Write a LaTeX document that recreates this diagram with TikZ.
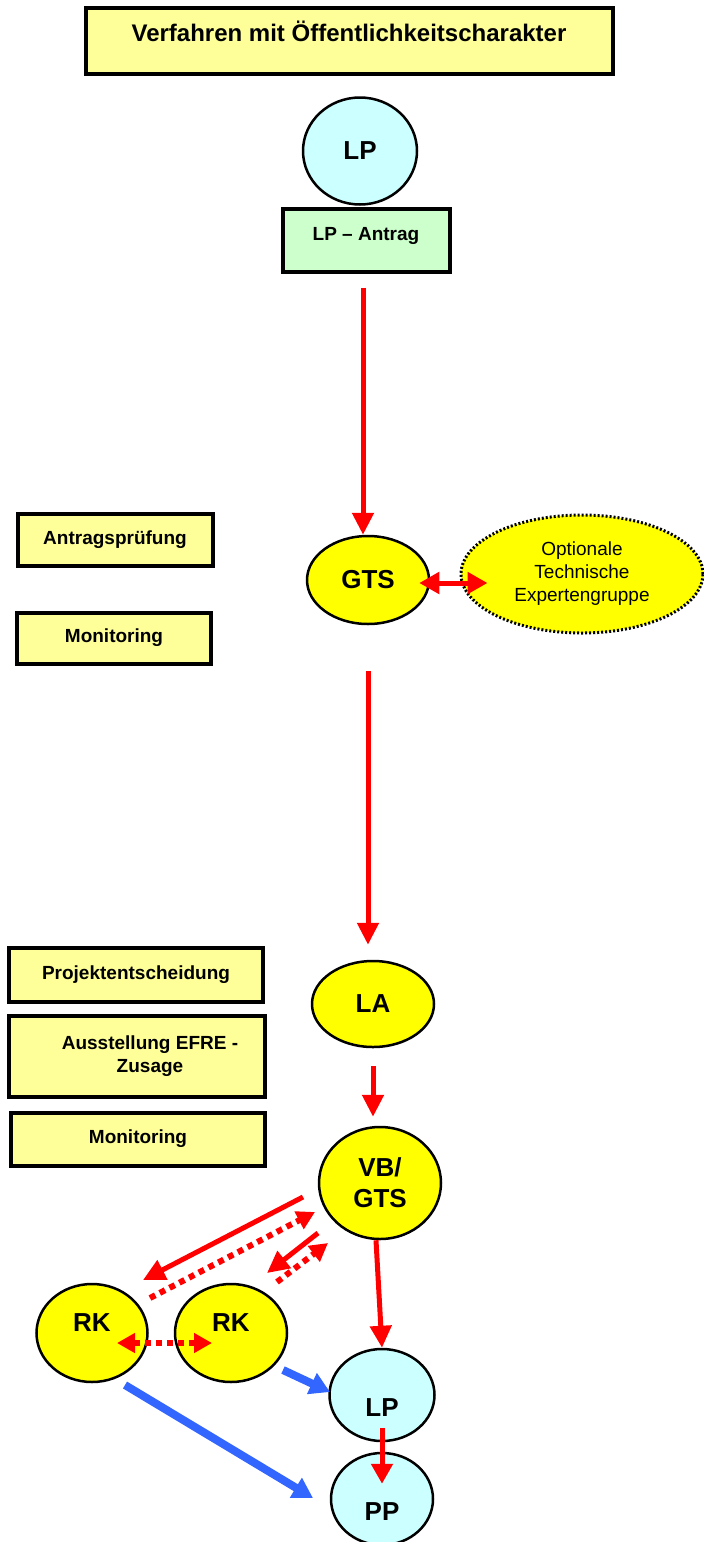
\documentclass[tikz,border=0pt]{standalone}
\usepackage{fontspec}
\setmainfont{Liberation Sans}
\usetikzlibrary{arrows.meta,shapes.geometric,calc}
\definecolor{boxyellow}{RGB}{255,255,153}
\definecolor{nodeyellow}{RGB}{255,255,0}
\definecolor{lightcyan}{RGB}{204,255,255}
\definecolor{lightgreen}{RGB}{204,255,204}
\definecolor{flowblue}{RGB}{51,102,255}
\begin{document}
\begin{tikzpicture}[x=1pt,y=-1pt,
    phase/.style ={rectangle, draw, line width=4pt, fill=boxyellow, inner sep=0pt,
                   font=\bfseries\fontsize{19}{23}\selectfont, align=center},
    actor/.style ={ellipse, draw, line width=2.5pt, fill=nodeyellow, inner sep=0pt,
                   font=\bfseries\fontsize{26}{31}\selectfont, align=center},
    partner/.style ={actor, fill=lightcyan},
    flow/.style ={draw=red, line width=5pt, -{Triangle[length=22pt,width=21pt]}},
    flowdot/.style ={flow, line width=6pt, dash pattern=on 6pt off 5pt, -{Triangle[length=18pt,width=19pt]}},
    report/.style ={draw=flowblue, line width=8pt, -{Triangle[length=20pt,width=22pt]}}]
   \useasboundingbox (0,0) rectangle (704,1542);

   % Kopf und Antrag
   \node[phase, font=\bfseries\fontsize{24}{28}\selectfont, minimum width=527pt, minimum height=66pt,
         text height=17.2pt, text depth=16pt] (title) at (349,41) {Verfahren mit Öffentlichkeitscharakter};
   \node[partner, minimum width=114pt, minimum height=107pt] (lp)  at (360,151)  {LP};
   \node[phase, fill=lightgreen, minimum width=167pt, minimum height=63pt,
         text height=13.6pt, text depth=12pt] (antrag) at (366,240) {LP -- Antrag};

   % Pruefung
   \node[phase, minimum width=195pt, minimum height=52pt] (pruef) at (115,540) {Antragsprüfung};
   \node[phase, minimum width=194pt, minimum height=51pt] (mon1)  at (114,638)  {Monitoring};
   \node[actor, minimum width=122pt, minimum height=88pt] (gts) at (368,580)  {GTS};
   \node[actor, draw, line width=3pt, dash pattern=on 2pt off 2pt, font=\fontsize{19}{23}\selectfont,
         minimum width=242pt, minimum height=118pt] (expert) at (582,574) {Optionale\\Technische\\Expertengruppe};

   % Entscheidung
   \node[phase, minimum width=254pt, minimum height=54pt] (entsch) at (136,975)  {Projektentscheidung};
   \node[phase, minimum width=256pt, minimum height=81pt] (efre)   at (137,1056) {\hspace*{26pt}Ausstellung EFRE -\\\hspace*{26pt}Zusage};
   \node[phase, minimum width=254pt, minimum height=53pt] (mon2)   at (138,1139) {Monitoring};
   \node[actor, minimum width=122pt, minimum height=86pt]  (la) at (373,1004) {LA};
   \node[actor, minimum width=122pt, minimum height=112pt] (vb) at (380,1183) {VB/\\GTS};

   % Kontrolle
   \node[actor, minimum width=111pt, minimum height=98pt, text height=18.6pt, text depth=22pt] (rkA) at (92,1333)  {RK};
   \node[actor, minimum width=112pt, minimum height=98pt, text height=18.6pt, text depth=22pt] (rkB) at (231,1333) {RK};
   \node[partner, minimum width=105pt, minimum height=92pt, text height=42.6pt, text depth=0pt] (lpEnd) at (382,1395) {LP};
   \node[partner, minimum width=102pt, minimum height=92pt, text height=42.6pt, text depth=0pt] (pp)    at (382,1499) {PP};

   \draw[flow] ([xshift=-3pt,yshift=-14pt]antrag.south) to ([xshift=-3pt]antrag.south |- gts.north);
   \draw[flow, {Triangle[length=20pt,width=21pt]}-{Triangle[length=20pt,width=21pt]}]
        ($(gts.east)+(-11,3)$) to ($(expert.west)+(28,9)$);
   \draw[flow] ([yshift=-46pt]gts.south) to ([yshift=15pt]gts.south |- la.north);
   \draw[flow] ([yshift=-18pt]la.south) to ([yshift=9pt]la.south |- vb.north);
   \draw[flow] ([xshift=-4pt]vb.south) to (lpEnd.north);
   \draw[flow, -{Triangle[length=20pt,width=21pt]}] ([yshift=-33pt]lpEnd.center) to ([yshift=-32pt]pp.north);

   \draw[flow]    ($(vb)+(-77,14)$)  to ($(rkA)+(51,-53)$);
   \draw[flowdot] ($(rkA)+(58,-35)$) to ($(vb)+(-65,29)$);
   \draw[flow]    ($(vb)+(-62,50)$)  to ($(rkB)+(36,-60)$);
   \draw[flowdot] ($(rkB)+(46,-51)$) to ($(vb)+(-52,60)$);
   \draw[flowdot, {Triangle[length=18pt,width=19pt]}-{Triangle[length=18pt,width=19pt]}]
        ($(rkA)+(25,10)$) to ($(rkB)+(-19,10)$);

   \draw[report] ($(rkB)+(52,37)$) to ($(lpEnd)+(-52,-3)$);
   \draw[report] ($(rkA)+(33,52)$) to ($(pp)+(-69,-1)$);
 \end{tikzpicture}
\end{document}
